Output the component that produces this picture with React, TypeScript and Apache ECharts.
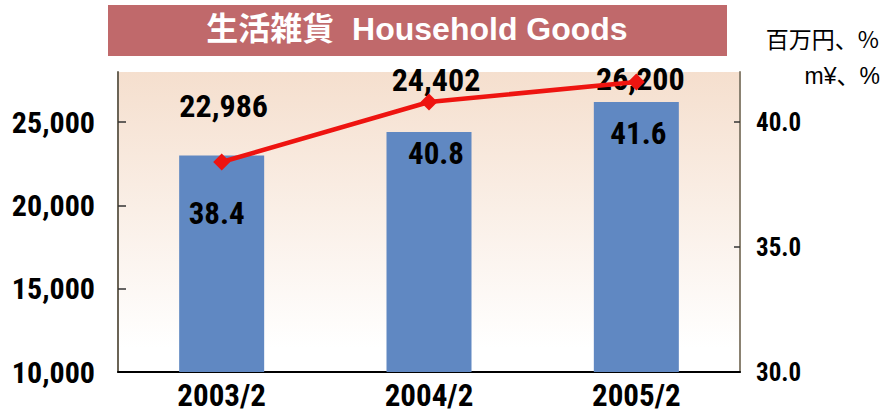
import React, { useEffect, useRef } from "react";
import * as echarts from "echarts";

const categories = ["2003/2", "2004/2", "2005/2"];
const salesValues = [22986, 24402, 26200];
const ratioValues = [38.4, 40.8, 41.6];
const leftTickValues = [10000, 15000, 20000, 25000];
const rightTickValues = [30, 35, 40];
const titleText = "生活雑貨  Household Goods";
const unitJa = "百万円、%";
const unitEn = "m¥、%";

const NARROW = "Roboto;font-stretch:condensed";

export default function App() {
  const ref = useRef<HTMLDivElement>(null);
  useEffect(() => {
    if (!ref.current) return;
    const chart = echarts.init(ref.current, undefined, { renderer: "svg" });
    // label placement tweaks (layout only)
    const barLabelGap = [38, 40, 12];
    const barLabelShift = [2, 7, 4];
    const lineLabelShift = [-5, 7, 2];
    const numFont = (size: number) => ({
      color: "#000000",
      fontFamily: NARROW,
      fontWeight: "bold",
      fontSize: size,
    });
    const option: any = {
      animation: false,
      backgroundColor: "#ffffff",
      grid: {
        left: 118,
        right: 153,
        top: 72,
        bottom: 48,
        show: true,
        borderWidth: 0,
        backgroundColor: new echarts.graphic.LinearGradient(0, 0, 0, 1, [
          { offset: 0, color: "#F5DFCE" },
          { offset: 0.92, color: "#FFFFFF" },
          { offset: 1, color: "#FFFFFF" },
        ]),
      },
      graphic: [
        {
          type: "rect",
          shape: { x: 108, y: 5, width: 619, height: 51 },
          style: { fill: "#C0696B" },
        },
        {
          type: "text",
          x: 417,
          y: 29,
          style: {
            text: titleText,
            fill: "#ffffff",
            font: 'bold 32px "Liberation Sans", "Noto Sans CJK JP", Arial, sans-serif',
            align: "center",
            verticalAlign: "middle",
          },
        },
        {
          type: "text",
          x: 879,
          y: 38,
          style: {
            text: unitJa,
            fill: "#000000",
            font: '23px "Noto Sans CJK JP", "Liberation Sans", sans-serif',
            align: "right",
            verticalAlign: "middle",
          },
        },
        {
          type: "text",
          x: 880,
          y: 76,
          style: {
            text: unitEn,
            fill: "#000000",
            font: '23px "Liberation Sans", "Noto Sans CJK JP", sans-serif',
            align: "right",
            verticalAlign: "middle",
          },
        },
      ],
      xAxis: {
        type: "category",
        data: categories,
        boundaryGap: true,
        axisLine: { lineStyle: { color: "#000000", width: 2 } },
        axisTick: { inside: true, length: 9, lineStyle: { color: "#555555", width: 1.5 } },
        axisLabel: { ...numFont(31), margin: 18, interval: 0 },
      },
      yAxis: [
        {
          type: "value",
          min: 10000,
          max: 28000,
          interval: 5000,
          splitLine: { show: false },
          axisLine: { show: true, lineStyle: { color: "#6B6456", width: 2 } },
          axisTick: {
            show: true,
            inside: true,
            length: 8,
            customValues: leftTickValues.slice(1),
            lineStyle: { color: "#333333", width: 1.5 },
          },
          axisLabel: {
            customValues: leftTickValues,
            ...numFont(30),
            margin: 23,
            formatter: (v: number) => v.toLocaleString("en-US"),
          },
        },
        {
          type: "value",
          min: 30,
          max: 42,
          interval: 5,
          position: "right",
          splitLine: { show: false },
          axisLine: { show: true, lineStyle: { color: "#8B8272", width: 2 } },
          axisTick: {
            show: true,
            inside: true,
            length: 6,
            customValues: rightTickValues.slice(1),
            lineStyle: { color: "#333333", width: 1.5 },
          },
          axisLabel: {
            customValues: rightTickValues,
            ...numFont(25),
            margin: 16,
            formatter: (v: number) => v.toFixed(1),
          },
        },
      ],
      series: [
        {
          type: "bar",
          yAxisIndex: 0,
          barWidth: "41%",
          itemStyle: { color: "#6088C2" },
          data: salesValues.map((v, i) => ({
            value: v,
            label: { distance: barLabelGap[i], offset: [barLabelShift[i], 0] },
          })),
          label: {
            show: true,
            position: "top",
            ...numFont(32),
            formatter: (p: any) => Number(p.value).toLocaleString("en-US"),
          },
          z: 2,
        },
        {
          type: "line",
          yAxisIndex: 1,
          data: ratioValues.map((v, i) => ({
            value: v,
            label: { offset: [lineLabelShift[i], 0] },
          })),
          symbol: "diamond",
          symbolSize: 17,
          lineStyle: { color: "#EE1410", width: 4.5 },
          itemStyle: { color: "#EE1410" },
          label: {
            show: true,
            position: "bottom",
            distance: 38,
            ...numFont(31),
            formatter: (p: any) => Number(p.value).toFixed(1),
          },
          z: 3,
        },
      ],
    };
    chart.setOption(option);
    return () => chart.dispose();
  }, []);
  return (
    <div
      ref={ref}
      style={{ position: "absolute", left: 0, top: 0, width: 893, height: 420 }}
    />
  );
}
